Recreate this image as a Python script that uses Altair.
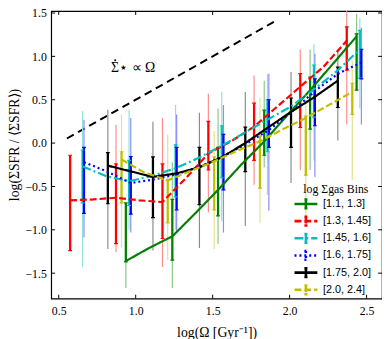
import altair as alt
import pandas as pd

# ---------------- data ----------------
series = ["[1.1, 1.3]", "[1.3, 1.45]", "[1.45, 1.6]", "[1.6, 1.75]", "[1.75, 2.0]", "[2.0, 2.4]"]
colors = ["#008000", "#ff0000", "#00bfbf", "#0000ff", "#000000", "#bfbf00"]
dashes = [[1, 0], [7, 3], [9, 3, 2, 3], [2, 3], [1, 0], [7, 3]]
OUTER_ALPHA = 0.45

# median lines (x = log Omega, y = log(SFR / <SFR>))
green_x = [0.936, 1.087, 1.238, 1.387, 1.535, 1.685, 1.835, 1.984, 2.133, 2.284, 2.435]
green_y = [-1.36, -1.21, -1.075, -0.81, -0.54, -0.25, 0.02, 0.32, 0.61, 0.92, 1.23]
red_x = [0.574, 0.723, 0.872, 1.023, 1.174, 1.323, 1.472, 1.62, 1.769, 1.919, 2.069, 2.22, 2.371]
red_y = [-0.66, -0.65, -0.63, -0.66, -0.68, -0.41, -0.12, 0.02, 0.19, 0.42, 0.65, 0.88, 1.18]
cyan_x = [0.655, 0.806, 0.957, 1.108, 1.259, 1.409, 1.559, 1.708, 1.856, 2.007, 2.158, 2.307, 2.456]
cyan_y = [-0.27, -0.38, -0.44, -0.38, -0.29, -0.17, -0.03, 0.12, 0.27, 0.42, 0.62, 0.83, 1.08]
blue_x = [0.664, 0.816, 0.968, 1.117, 1.266, 1.418, 1.57, 1.718, 1.865, 2.014, 2.164, 2.315, 2.466]
blue_y = [-0.22, -0.33, -0.46, -0.42, -0.36, -0.27, -0.15, -0.01, 0.15, 0.36, 0.6, 0.8, 0.93]
black_x = [0.819, 0.965, 1.112, 1.263, 1.414, 1.563, 1.712, 1.86, 2.009, 2.161, 2.313]
black_y = [-0.26, -0.325, -0.39, -0.35, -0.28, -0.16, 0.0, 0.18, 0.36, 0.53, 0.72]
yellow_x = [0.908, 1.058, 1.208, 1.359, 1.51, 1.658, 1.807, 1.956, 2.105, 2.256, 2.407]
yellow_y = [-0.19, -0.34, -0.43, -0.32, -0.21, -0.09, 0.02, 0.16, 0.29, 0.44, 0.59]

# error bars: (x, inner_lo, inner_hi, outer_lo, outer_hi)
green_bars = [(0.936, -1.37, -0.69, -1.67, -0.69), (1.238, -1.35, -0.65, -1.67, -0.22),
              (1.535, -0.84, -0.05, -1.16, 0.40), (1.835, -0.14, 0.38, -0.28, 0.72),
              (2.133, 0.16, 0.76, -0.31, 1.08), (2.435, 0.61, 1.26, 0.61, 1.49)]
red_bars = [(0.574, -1.24, -0.14, -1.24, -0.14), (0.872, -1.16, -0.24, -1.26, 0.21),
            (1.174, -1.10, -0.24, -1.43, 0.29), (1.472, -0.31, 0.25, -0.80, 0.57),
            (1.769, -0.20, 0.46, -0.48, 0.78), (2.069, 0.18, 0.80, -0.31, 1.08),
            (2.371, 0.84, 1.34, 0.215, 1.59)]
cyan_bars = [(0.655, -0.69, -0.08, -1.43, 0.37), (0.957, -0.72, -0.20, -1.00, 0.385),
             (1.259, -0.62, -0.02, -1.00, 0.44), (1.559, -0.40, 0.20, -0.90, 0.59),
             (1.856, -0.10, 0.50, -0.60, 0.80), (2.158, 0.30, 0.90, -0.20, 1.14),
             (2.456, 0.75, 1.30, 0.40, 1.44)]
blue_bars = [(0.664, -0.81, -0.05, -1.09, 0.27), (0.968, -0.82, -0.155, -1.03, 0.29),
             (1.266, -0.77, -0.05, -1.03, 0.33), (1.570, -0.54, 0.10, -1.03, 0.44),
             (1.865, -0.05, 0.50, -0.78, 0.80), (2.164, 0.20, 0.74, -0.39, 1.03),
             (2.466, 0.74, 1.08, 0.215, 1.33)]
black_bars = [(0.819, -0.70, -0.11, -1.22, 0.385), (1.112, -0.86, -0.16, -1.24, 0.245),
              (1.414, -0.71, -0.05, -1.21, 0.35), (1.712, -0.33, 0.185, -0.955, 0.59),
              (2.009, -0.05, 0.52, -0.46, 0.82), (2.313, 0.41, 0.875, 0.03, 1.08)]
yellow_bars = [(0.908, -0.69, -0.10, -1.20, 0.33), (1.208, -0.92, -0.43, -1.35, 0.10),
               (1.510, -0.77, -0.16, -1.22, 0.14), (1.807, -0.52, 0.08, -0.92, 0.52),
               (2.105, -0.37, 0.31, -0.90, 0.50), (2.407, 0.33, 0.69, -0.43, 0.95)]

# reference relation  Sigma_dot ~ Omega
ref_x = [0.553, 1.924]
ref_y = [0.053, 1.424]
note_x = [0.84]
note_y = [0.864]
note_text = ["Σ⋆ ∝ Ω"]

x_ticks = [0.5, 1.0, 1.5, 2.0, 2.5]
y_ticks = [-1.5, -1.0, -0.5, 0.0, 0.5, 1.0, 1.5]

X_DOM = [0.451, 2.6]
Y_DOM = [-1.794, 1.5226]
W, H = 337, 293


def lighten(hex_color, a):
    r, g, b = (int(hex_color[i:i + 2], 16) for i in (1, 3, 5))
    mix = lambda c: int(round(255 * (1 - a) + c * a))
    return "#{:02x}{:02x}{:02x}".format(mix(r), mix(g), mix(b))


# ---------------- tables ----------------
line_sets = [(green_x, green_y), (red_x, red_y), (cyan_x, cyan_y),
             (blue_x, blue_y), (black_x, black_y), (yellow_x, yellow_y)]
bar_sets = [green_bars, red_bars, cyan_bars, blue_bars, black_bars, yellow_bars]

line_rows = []
for s, (xs_, ys_) in zip(series, line_sets):
    for i, (xv, yv) in enumerate(zip(xs_, ys_)):
        line_rows.append({"series": s, "x": xv, "y": yv, "idx": i})
lines_df = pd.DataFrame(line_rows)

bar_rows = []
for s, c, bars in zip(series, colors, bar_sets):
    for (xv, tlo, thi, nlo, nhi) in bars:
        bar_rows.append({"series": s, "col": c, "light": lighten(c, OUTER_ALPHA), "x": xv,
                         "tlo": tlo, "thi": thi, "nlo": nlo, "nhi": nhi})
bars_df = pd.DataFrame(bar_rows)

ref_df = pd.DataFrame({"x": ref_x, "y": ref_y})
note_df = pd.DataFrame({"x": note_x, "y": note_y, "t": note_text})

tlx = 4.0 / W * (X_DOM[1] - X_DOM[0])
tly = 4.0 / H * (Y_DOM[1] - Y_DOM[0])
tick_rows = []
for v in x_ticks:
    tick_rows.append({"x": v, "x2": v, "y": Y_DOM[0], "y2": Y_DOM[0] + tly})
    tick_rows.append({"x": v, "x2": v, "y": Y_DOM[1] - tly, "y2": Y_DOM[1]})
for v in y_ticks:
    tick_rows.append({"x": X_DOM[0], "x2": X_DOM[0] + tlx, "y": v, "y2": v})
    tick_rows.append({"x": X_DOM[1] - tlx, "x2": X_DOM[1], "y": v, "y2": v})
ticks_df = pd.DataFrame(tick_rows)

# ---------------- chart ----------------
SERIF = "Liberation Serif"
xs = alt.Scale(domain=X_DOM, nice=False, zero=False)
ys = alt.Scale(domain=Y_DOM, nice=False, zero=False)

x_axis = alt.Axis(values=x_ticks, format=".1f", title="log(Ω [Gyr⁻¹])", ticks=False, tickSize=0,
                  domain=False, grid=False, labelPadding=7, titleBaseline="middle", titleY=35)
y_axis = alt.Axis(values=y_ticks, format=".1f", title="log(ΣSFR / ⟨ΣSFR⟩)", ticks=False, tickSize=0,
                  domain=False, grid=False, labelPadding=5, titleX=-37, titleY=136,
                  titleAlign="center", titleBaseline="middle", titleAngle=270)

X = alt.X("x:Q", scale=xs, axis=x_axis)
Y = alt.Y("y:Q", scale=ys, axis=y_axis)

legend = alt.Legend(
    title="log Σgas Bins", orient="none", legendX=254, legendY=176,
    titleFont=SERIF, titleFontSize=12, titleFontWeight="normal", titleColor="black",
    titlePadding=3, titleAnchor="middle",
    labelFont="Liberation Sans", labelFontSize=11, labelColor="black",
    labelOffset=12, rowPadding=-3.5, padding=0,
    symbolType="M-3,0H3M0,-1.15V1.15M-0.4,-1.15H0.4M-0.4,1.15H0.4",
    symbolSize=60, symbolStrokeWidth=2.6, symbolOpacity=1,
)
cscale = alt.Scale(domain=series, range=colors)
dscale = alt.Scale(domain=series, range=dashes)

ref_line = alt.Chart(ref_df).mark_line(color="black", strokeWidth=2, strokeDash=[8, 5]).encode(x=X, y=Y)

outer = alt.Chart(bars_df).mark_rule(strokeWidth=1.2, clip=True).encode(
    x=alt.X("x:Q", scale=xs), y=alt.Y("nlo:Q", scale=ys), y2="nhi:Q",
    color=alt.Color("light:N", scale=None))
inner = alt.Chart(bars_df).mark_rule(strokeWidth=2.3, clip=True).encode(
    x=alt.X("x:Q", scale=xs), y=alt.Y("tlo:Q", scale=ys), y2="thi:Q",
    color=alt.Color("col:N", scale=None))
caps = alt.Chart(bars_df).transform_fold(["tlo", "thi"], as_=["end", "yv"]).transform_calculate(
    xa="datum.x - 0.0125", xb="datum.x + 0.0125").mark_rule(strokeWidth=1.2, clip=True).encode(
    x=alt.X("xa:Q", scale=xs), x2="xb:Q", y=alt.Y("yv:Q", scale=ys),
    color=alt.Color("col:N", scale=None))

lines = alt.Chart(lines_df).mark_line(strokeWidth=2.2, clip=True).encode(
    x=X, y=Y, order="idx:Q",
    color=alt.Color("series:N", scale=cscale, legend=legend),
    strokeDash=alt.StrokeDash("series:N", scale=dscale, legend=legend))

note = alt.Chart(note_df).mark_text(font=SERIF, fontSize=14, color="black", align="left").encode(
    x=alt.X("x:Q", scale=xs), y=alt.Y("y:Q", scale=ys), text="t:N")
note_dot = alt.Chart(note_df).mark_circle(size=4, color="black", opacity=1,
                                          xOffset=4.2, yOffset=-8).encode(
    x=alt.X("x:Q", scale=xs), y=alt.Y("y:Q", scale=ys))

frame_ticks = alt.Chart(ticks_df).mark_rule(color="black", strokeWidth=1).encode(
    x=alt.X("x:Q", scale=xs), x2="x2:Q", y=alt.Y("y:Q", scale=ys), y2="y2:Q")

chart = alt.layer(ref_line, outer, inner, caps, lines, note, note_dot, frame_ticks).properties(
    width=W, height=H,
    padding={"left": 44, "top": 0, "right": 0, "bottom": 38},
    autosize=alt.AutoSizeParams(type="none"),
).configure_view(stroke="black", strokeWidth=1.2).configure_axis(
    labelFont=SERIF, labelFontSize=12, labelColor="black",
    titleFont=SERIF, titleFontSize=14, titleFontWeight="normal", titleColor="black",
)

chart.save("out.html", embed_options={"renderer": "svg", "actions": False})
